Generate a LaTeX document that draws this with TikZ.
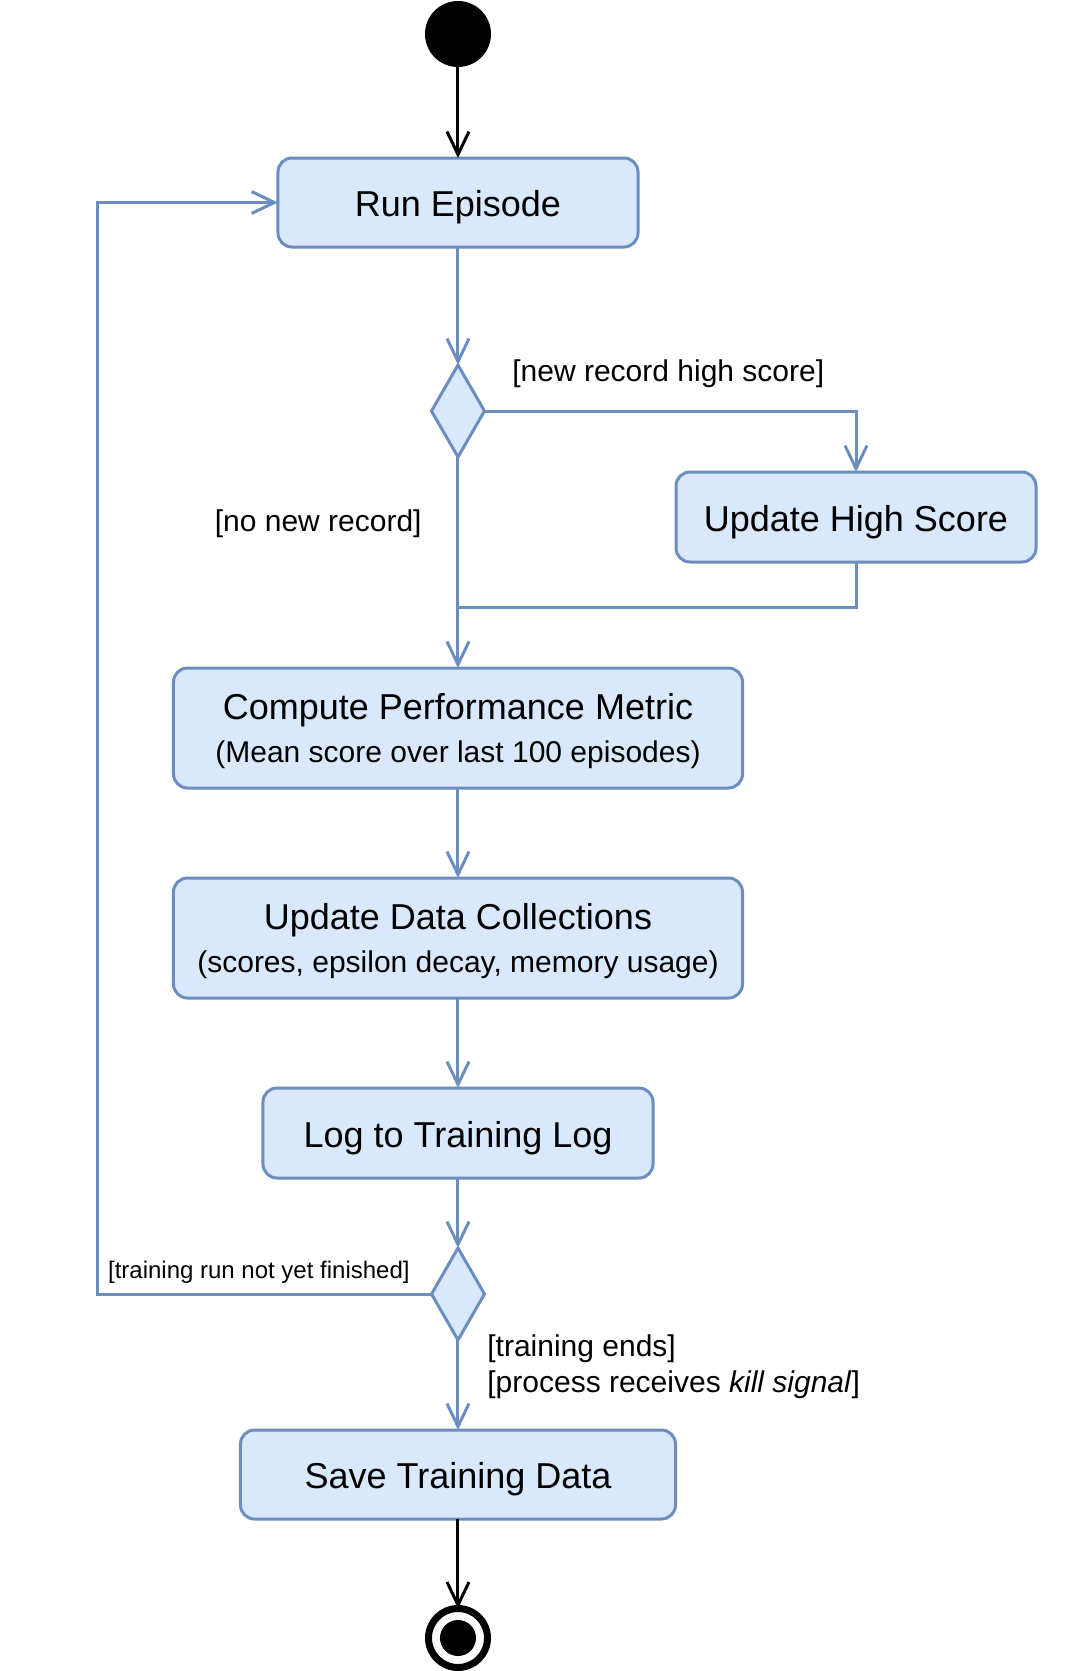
\documentclass[tikz,border=0pt]{standalone}
\usepackage{fontspec}
\setmainfont{Liberation Sans}
\usepackage{tikz}
\usetikzlibrary{shapes.geometric,arrows.meta,positioning}
\tikzset{every node/.append style={align=center}}
\definecolor{actfill}{HTML}{DAE8FC}
\definecolor{actline}{HTML}{6C8EBF}

\begin{document}
\begin{tikzpicture}[
    node distance=45pt,
    action/.style={draw=actline, fill=actfill, line width=1.5pt, rounded corners=7pt, minimum height=44.5pt, inner sep=0pt, outer sep=0pt, text depth=0pt, font=\fontsize{18}{22}\selectfont},
    oneline/.style={action, text height=14.4pt},
    decision/.style={diamond, draw=actline, fill=actfill, line width=1.5pt, minimum width=26.5pt, minimum height=46pt, inner sep=0pt, outer sep=0pt},
    startstate/.style={circle, fill=black, minimum size=33pt, inner sep=0pt, outer sep=0pt},
    endstate/.style={circle, draw=black, line width=3.5pt, fill=white, minimum size=29.5pt, inner sep=0pt, outer sep=0pt, path picture={\fill[black] (path picture bounding box.center) circle (9pt);}},
    flow/.style={draw=actline, line width=1.5pt, -{Straight Barb[length=11.5pt, width=11pt]}},
    ctrl/.style={draw=black, line width=1.5pt, -{Straight Barb[length=11.5pt, width=11pt]}},
    link/.style={draw=actline, line width=1.5pt},
    guard/.style={font=\fontsize{15}{18}\selectfont, inner sep=0pt}
]
    \useasboundingbox (-229pt,17pt) rectangle (305.5pt,-818.5pt);

    % Main flow
    \node[startstate] (start) at (0,0) {};
    \node[oneline, minimum width=180pt, below=45.5pt of start] (run) {Run Episode};
    \node[decision, below=59pt of run] (d1) {};
    \node[oneline, minimum width=180pt, minimum height=45pt, below right=30.5pt and 95.75pt of d1.east] (high) {Update High Score};
    \node[action, minimum width=284.5pt, minimum height=60pt, below=105.5pt of d1] (metric) {Compute Performance Metric\\[-0.6pt]{\fontsize{15}{18}\selectfont (Mean score over last 100 episodes)}};
    \node[action, minimum width=284.5pt, minimum height=60pt, below=of metric] (collect) {Update Data Collections\\[-0.6pt]{\fontsize{15}{18}\selectfont (scores, epsilon decay, memory usage)}};
    \node[oneline, minimum width=195pt, minimum height=45pt, below=of collect] (log) {Log to Training Log};
    \node[decision, below=35pt of log] (d2) {};
    \node[oneline, minimum width=217.5pt, below=of d2] (save) {Save Training Data};
    \node[endstate, below=44.75pt of save] (end) {};

    % Helper points
    \coordinate[below=22.5pt of high.south] (joinr);
    \coordinate[left=90pt of run.west] (back);

    % Transitions
    \draw[ctrl] (start) -- (run);
    \draw[flow] (run) -- (d1);
    \draw[flow] (d1.east) -| (high.north);
    \draw[flow] (d1) -- (metric);
    \draw[link] (high.south) -- (joinr) -- (joinr -| d1);
    \draw[flow] (metric) -- (collect);
    \draw[flow] (collect) -- (log);
    \draw[flow] (log) -- (d2);
    \draw[flow] (d2.west) -| (back) -- (run.west);
    \draw[flow] (d2) -- (save);
    \draw[ctrl] (save) -- (end);

    % Guards
    \node[guard, right=27pt of d1.center, yshift=18.5pt] (lnew) {[new record high score]};
    \node[guard, left=18pt of d1.center, yshift=-56.5pt] (lnone) {[no new record]};
    \node[guard, font=\fontsize{12}{14}\selectfont, left=24pt of d2.center, yshift=11pt] (lloop) {[training run not yet finished]};
    \node[guard, align=left, right=14.5pt of d2.center, yshift=-36.5pt] (lends) {[training ends]\\{}[process receives \textit{kill signal}]};
\end{tikzpicture}
\end{document}
